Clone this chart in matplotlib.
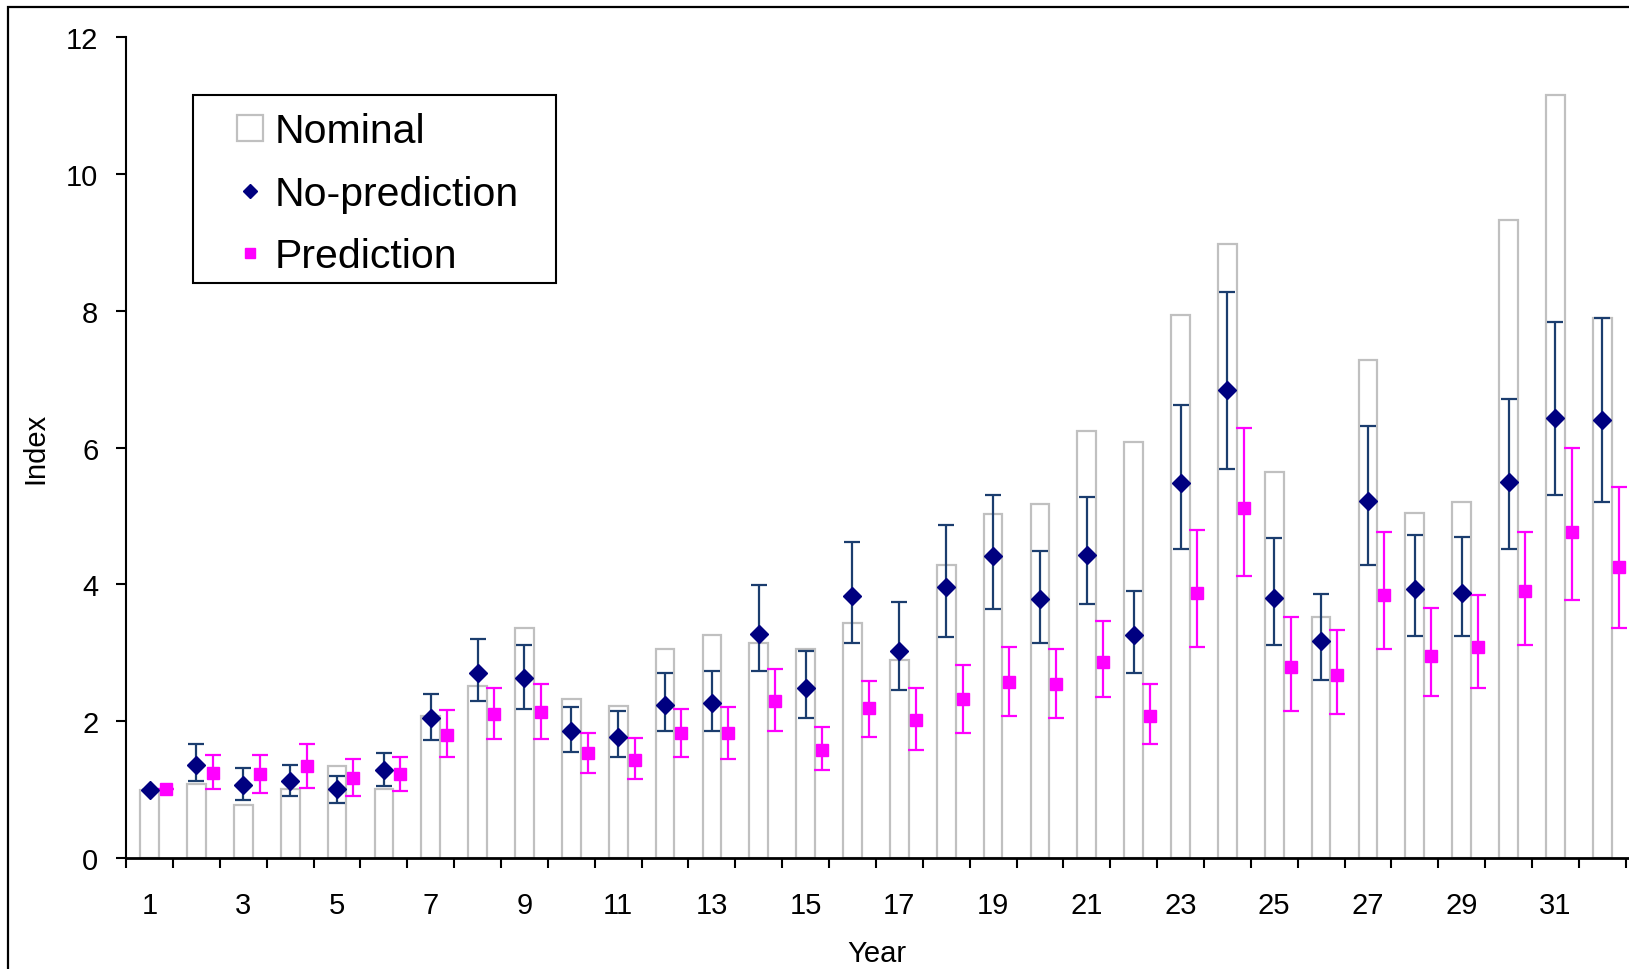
import matplotlib
matplotlib.use("Agg")
import matplotlib.pyplot as plt
import numpy as np
from matplotlib.lines import Line2D
from matplotlib.patches import Rectangle, Patch

plt.rcParams['font.family'] = ['Liberation Sans', 'DejaVu Sans']

years = list(range(1, 33))
nominal = [1.00, 1.08, 0.77, 1.01, 1.34, 1.01, 2.08, 2.51, 3.36, 2.32, 2.22, 3.06, 3.26, 3.14, 3.06, 3.44,
           2.89, 4.29, 5.03, 5.18, 6.25, 6.08, 7.94, 8.98, 5.64, 3.53, 7.28, 5.04, 5.20, 9.33, 11.15, 7.89]
nopred = [1.00, 1.36, 1.07, 1.12, 1.01, 1.28, 2.05, 2.70, 2.63, 1.86, 1.77, 2.24, 2.27, 3.28, 2.49, 3.83,
          3.03, 3.96, 4.41, 3.78, 4.43, 3.26, 5.48, 6.84, 3.80, 3.17, 5.22, 3.94, 3.88, 5.50, 6.43, 6.41]
nopred_hi = [1.00, 1.67, 1.31, 1.36, 1.20, 1.53, 2.40, 3.20, 3.12, 2.21, 2.15, 2.70, 2.73, 3.99, 3.03, 4.62,
             3.74, 4.87, 5.31, 4.49, 5.28, 3.91, 6.62, 8.27, 4.68, 3.86, 6.32, 4.73, 4.70, 6.71, 7.83, 7.89]
nopred_lo = [1.00, 1.12, 0.85, 0.90, 0.81, 1.06, 1.72, 2.30, 2.18, 1.55, 1.47, 1.86, 1.86, 2.73, 2.05, 3.14,
             2.46, 3.23, 3.64, 3.14, 3.72, 2.70, 4.52, 5.69, 3.11, 2.60, 4.29, 3.25, 3.25, 4.52, 5.31, 5.20]
pred = [1.01, 1.25, 1.23, 1.34, 1.17, 1.23, 1.80, 2.10, 2.13, 1.53, 1.44, 1.83, 1.83, 2.30, 1.58, 2.19,
        2.02, 2.32, 2.57, 2.54, 2.87, 2.08, 3.88, 5.12, 2.79, 2.68, 3.85, 2.95, 3.09, 3.91, 4.76, 4.26]
pred_hi = [1.01, 1.50, 1.50, 1.67, 1.45, 1.48, 2.16, 2.49, 2.54, 1.83, 1.75, 2.18, 2.21, 2.76, 1.91, 2.59,
           2.49, 2.82, 3.09, 3.06, 3.47, 2.54, 4.79, 6.29, 3.53, 3.33, 4.76, 3.66, 3.84, 4.76, 6.00, 5.42]
pred_lo = [1.01, 1.01, 0.95, 1.03, 0.90, 0.98, 1.47, 1.74, 1.74, 1.25, 1.15, 1.48, 1.45, 1.86, 1.28, 1.77,
           1.58, 1.83, 2.08, 2.05, 2.35, 1.67, 3.09, 4.13, 2.15, 2.10, 3.06, 2.37, 2.49, 3.11, 3.77, 3.36]
xtick_labels = [str(y) for y in years if y % 2 == 1]

W, H = 1629, 970
fig = plt.figure(figsize=(W / 100, H / 100), dpi=100)
ax = fig.add_axes([126.2 / W, 1 - 859 / H, (1628 - 126.2) / W, (859 - 38.3) / H])

x = np.array(years, dtype=float)
NAVY_ERR = '#1b3d6e'
ax.bar(x, nominal, width=0.4, color='white', edgecolor='#c0c0c0', linewidth=1.6, zorder=1)

ny = np.array(nopred); py = np.array(pred)
ax.errorbar(x, ny, yerr=[ny - np.array(nopred_lo), np.array(nopred_hi) - ny], fmt='D',
            color='#000080', markersize=9.5, ecolor=NAVY_ERR, elinewidth=1.6, capsize=5.5,
            capthick=1.6, zorder=3)
ax.errorbar(x + 0.35, py, yerr=[py - np.array(pred_lo), np.array(pred_hi) - py], fmt='s',
            color='#ff00ff', markersize=8.5, ecolor='#ff00ff', elinewidth=1.6, capsize=5.5,
            capthick=1.6, zorder=3)

ax.set_xlim(0.5, 32.55)
ax.set_ylim(0, 12)
ax.set_yticks(range(0, 13, 2))
ax.set_xticks([y for y in years if y % 2 == 1])
ax.set_xticklabels(xtick_labels)
ax.set_xticks(np.arange(0.5, 33, 1.0), minor=True)
ax.tick_params(axis='x', which='major', length=0, pad=24, labelsize=21)
ax.tick_params(axis='x', which='minor', length=7, width=1.5, direction='out')
ax.tick_params(axis='y', which='major', length=7, width=1.5, direction='out', pad=13, labelsize=21)
for s in ['top', 'right']:
    ax.spines[s].set_visible(False)
ax.spines['left'].set_linewidth(1.5)
ax.spines['bottom'].set_linewidth(2.0)
ax.set_ylabel('Index', fontsize=21, labelpad=12)
ax.set_xlabel('Year', fontsize=21, labelpad=14)

# legend
handles = [Patch(facecolor='white', edgecolor='#c0c0c0', linewidth=1.6),
           Line2D([], [], marker='D', color='#000080', linestyle='none', markersize=7),
           Line2D([], [], marker='s', color='#ff00ff', linestyle='none', markersize=7.5)]
leg = fig.legend(handles, ['Nominal', 'No-prediction', 'Prediction'], loc='upper left',
                 bbox_to_anchor=(237 / W, 1 - 113 / H), bbox_transform=fig.transFigure,
                 frameon=False, fontsize=29.5, handlelength=0.64, handleheight=0.6,
                 handletextpad=0.28, labelspacing=0.6, borderpad=0, borderaxespad=0)
fig.add_artist(Rectangle((193 / W, 1 - 284 / H), 363 / W, 188 / H, transform=fig.transFigure,
                         fill=False, edgecolor='black', linewidth=1.5))
# outer frame
fig.add_artist(Rectangle((8 / W, -0.1), 1.2, 1 - 8 / H + 0.1, transform=fig.transFigure,
                         fill=False, edgecolor='black', linewidth=1.6))

fig.savefig('out.png', dpi=100)
